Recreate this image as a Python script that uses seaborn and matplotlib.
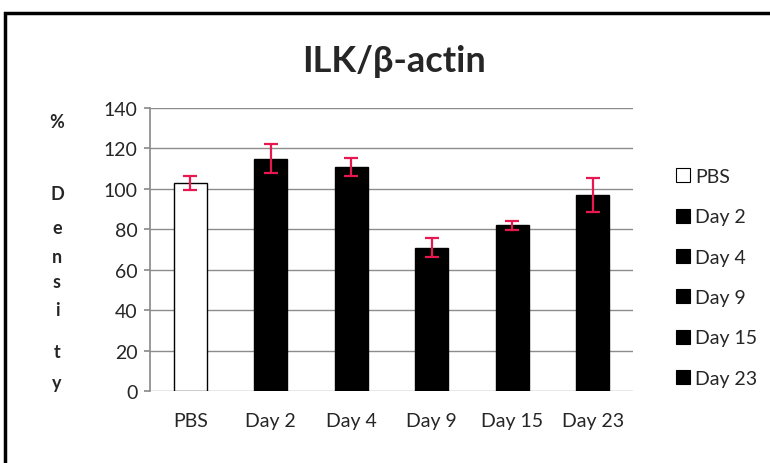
import matplotlib
matplotlib.use("Agg")
import matplotlib.pyplot as plt
import seaborn as sns
import pandas as pd
from matplotlib.patches import Rectangle
from matplotlib.lines import Line2D

# values
groups = ["PBS", "Day 2", "Day 4", "Day 9", "Day 15", "Day 23"]
density = [103, 115, 111, 71, 82, 97]
err = [3.5, 7, 4.5, 4.5, 2.2, 8.5]
fills = ["white", "black", "black", "black", "black", "black"]

sns.set_theme(style="white")
plt.rcParams["font.family"] = ["Lato", "DejaVu Sans"]

df = pd.DataFrame({"group": groups, "density": density})

fig = plt.figure(figsize=(7.7, 4.64), dpi=100)
ax = fig.add_axes([0.195, 0.155, 0.627, 0.61])

sns.barplot(data=df, x="group", y="density", hue="group", palette=fills,
            edgecolor="black", linewidth=1, width=0.41, legend=False, ax=ax)
ax.errorbar(range(len(groups)), density, yerr=err, fmt="none",
            ecolor="#e8174f", elinewidth=1.6, capsize=5, capthick=1.6, zorder=5)

ax.set_ylim(0, 140)
ax.set_yticks(range(0, 141, 20))
ax.set_xlim(-0.5, len(groups) - 0.5)
ax.grid(axis="y", color="#8c8c8c", linewidth=1)
ax.set_axisbelow(True)
for s in ["top", "right", "bottom"]:
    ax.spines[s].set_visible(False)
ax.spines["left"].set_color("#8c8c8c")
ax.tick_params(axis="y", left=True, length=4, color="#8c8c8c", labelsize=14, pad=5)
ax.tick_params(axis="x", bottom=False, labelsize=14, pad=9)
ax.set_xlabel("")
ax.set_ylabel("")

fig.text(0.512, 0.868, "ILK/β-actin", ha="center", va="center",
         fontsize=26, fontweight="bold")

# vertical stacked y label
letters = ["%", "D", "e", "n", "s", "i", "t", "y"]
ys = [123, 194, 228, 258, 283, 311, 353, 383]
for ch, yp in zip(letters, ys):
    fig.text(57 / 770, 1 - yp / 464, ch, ha="center", va="center",
             fontsize=13, fontweight="bold")

handles = [Line2D([], [], marker="s", linestyle="none", markersize=10,
                  markerfacecolor=c, markeredgecolor="black", markeredgewidth=0.8)
           for c in fills]
fig.legend(handles, groups, loc="center left", bbox_to_anchor=(0.85, 0.40),
           frameon=False, fontsize=14, labelspacing=1.2, handletextpad=0.1,
           handlelength=1.1)

fig.patches.append(Rectangle((5 / 770, -0.1), 1.2, 1 - 14 / 464 + 0.1,
                             transform=fig.transFigure, fill=False,
                             edgecolor="black", linewidth=2.5))

fig.savefig("out.png", dpi=100)
